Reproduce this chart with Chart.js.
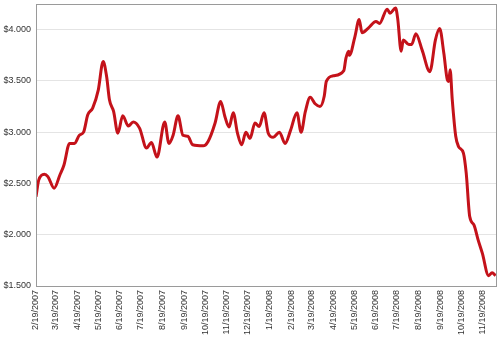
<!DOCTYPE html>
<html>
<head>
<meta charset="utf-8">
<script src="https://cdn.jsdelivr.net/npm/chart.js@4"></script>
<style>
  html, body { margin: 0; padding: 0; background: #fff; }
  canvas { display: block; }
</style>
</head>
<body>
<canvas id="myChart" width="500" height="338"></canvas>
<script>
// price series: days counted from 2/19/2007, price in dollars
var startDate = "2/19/2007";
var days = [0, 4, 12, 17, 26, 34, 40, 48, 55, 62, 68, 74, 81, 89, 96, 101, 105, 111, 117, 124,
  132, 139, 148, 158, 165, 173, 184, 190, 196, 203, 210, 217, 224, 239, 246, 256, 264, 270, 276, 282,
  288, 294, 300, 306, 313, 319, 326, 332, 339, 348, 356, 364, 373, 379, 385, 392, 399, 406, 412, 415,
  425, 440, 443, 447, 448, 456, 462, 466, 475, 486, 491, 502, 506, 514, 517, 522, 525, 533, 537, 543,
  552, 563, 571, 577, 583, 588, 590, 592, 595, 600, 604, 611, 615, 620, 626, 632, 638, 647, 652, 657];
var prices = [2.37, 2.535, 2.59, 2.567, 2.454, 2.58, 2.68, 2.89, 2.89, 2.97, 3.00, 3.17, 3.235, 3.41, 3.69, 3.54, 3.316, 3.20, 2.99, 3.16,
  3.06, 3.10, 3.04, 2.845, 2.90, 2.757, 3.10, 2.89, 2.97, 3.16, 2.97, 2.96, 2.877, 2.867, 2.91, 3.09, 3.30, 3.153, 3.05, 3.19,
  2.99, 2.877, 3.00, 2.94, 3.09, 3.056, 3.19, 2.99, 2.95, 3.00, 2.89, 3.02, 3.19, 3.00, 3.20, 3.34, 3.277, 3.25, 3.35, 3.495,
  3.55, 3.60, 3.72, 3.79, 3.75, 3.935, 4.10, 3.97, 4.015, 4.08, 4.06, 4.20, 4.16, 4.21, 4.11, 3.79, 3.90, 3.855, 3.855, 3.96,
  3.80, 3.59, 3.90, 4.01, 3.77, 3.51, 3.495, 3.61, 3.32, 2.96, 2.86, 2.795, 2.60, 2.177, 2.096, 1.95, 1.82, 1.60, 1.63, 1.60];

var monthLabels = ["2/19/2007", "3/19/2007", "4/19/2007", "5/19/2007", "6/19/2007", "7/19/2007",
  "8/19/2007", "9/19/2007", "10/19/2007", "11/19/2007", "12/19/2007", "1/19/2008", "2/19/2008",
  "3/19/2008", "4/19/2008", "5/19/2008", "6/19/2008", "7/19/2008", "8/19/2008", "9/19/2008",
  "10/19/2008", "11/19/2008"];
var priceTicks = [1.5, 2.0, 2.5, 3.0, 3.5, 4.0];

function dayNumber(s) {
  var p = s.split("/");
  return Date.UTC(+p[2], +p[0] - 1, +p[1]) / 86400000;
}
var base = dayNumber(startDate);
var monthDays = monthLabels.map(function (l) { return dayNumber(l) - base; });

var points = days.map(function (d, i) { return { x: d, y: prices[i] }; });

// gray frame round the plot area
var frame = {
  id: "frame",
  afterDraw: function (chart) {
    var a = chart.chartArea, ctx = chart.ctx;
    ctx.save();
    ctx.strokeStyle = "#9a9a9a";
    ctx.lineWidth = 1;
    ctx.strokeRect(Math.round(a.left) + 0.5, Math.round(a.top) + 0.5,
      Math.round(a.right - a.left) - 1, Math.round(a.bottom - a.top));
    ctx.restore();
  }
};

var ctx = document.getElementById("myChart").getContext("2d");
var myChart = new Chart(ctx, {
  type: "line",
  data: {
    datasets: [{
      data: points,
      borderColor: "#c4121a",
      borderWidth: 3,
      pointRadius: 0,
      fill: false,
      cubicInterpolationMode: "monotone"
    }]
  },
  options: {
    responsive: false,
    animation: false,
    layout: { padding: { top: 4, right: 3, left: 0, bottom: 0 } },
    plugins: { legend: { display: false }, tooltip: { enabled: false } },
    scales: {
      x: {
        type: "linear",
        min: 0,
        max: 659,
        afterBuildTicks: function (scale) {
          scale.ticks = monthDays.map(function (v) { return { value: v }; });
        },
        afterFit: function (scale) {
          scale.height = 52;
          scale.paddingLeft = 0;
          scale.paddingRight = 0;
        },
        grid: { display: false, drawTicks: false },
        border: { display: false },
        ticks: {
          autoSkip: false,
          minRotation: 90,
          maxRotation: 90,
          padding: 4,
          color: "#333",
          font: { family: "Liberation Sans", size: 9 },
          callback: function (v) {
            var i = monthDays.indexOf(v);
            return i < 0 ? "" : monthLabels[i];
          }
        }
      },
      y: {
        min: 1.5,
        max: 4.25,
        afterBuildTicks: function (scale) {
          scale.ticks = priceTicks.map(function (v) { return { value: v }; });
        },
        afterFit: function (scale) {
          scale.width = 36;
          scale.paddingTop = 0;
          scale.paddingBottom = 0;
        },
        grid: { color: "#e4e4e4", drawTicks: false },
        border: { display: false },
        ticks: {
          padding: 5,
          color: "#333",
          font: { family: "Liberation Sans", size: 9 },
          callback: function (v) { return "$" + v.toFixed(3); }
        }
      }
    }
  },
  plugins: [frame]
});
</script>
</body>
</html>
